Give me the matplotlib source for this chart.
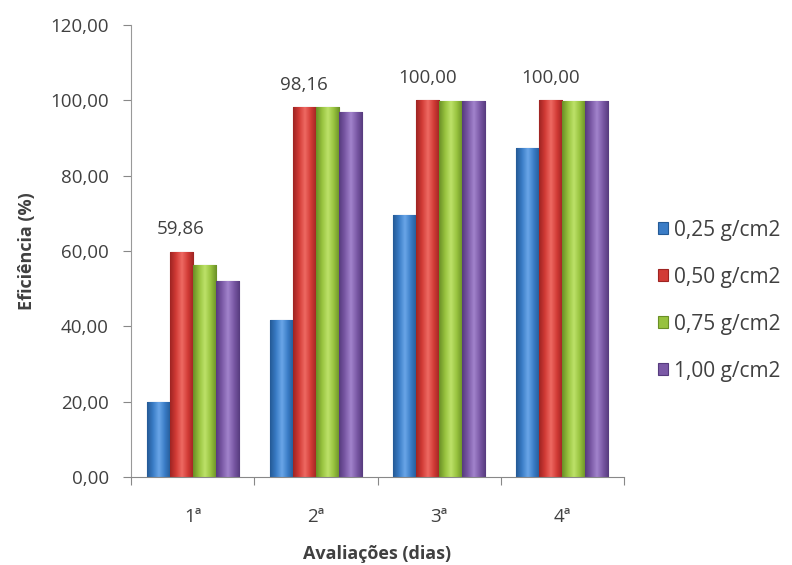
import numpy as np
import matplotlib.pyplot as plt
from matplotlib.colors import LinearSegmentedColormap
from matplotlib.ticker import FuncFormatter

# ---------------- Data ----------------
avaliacoes = ["1ª", "2ª", "3ª", "4ª"]
doses = ["0,25 g/cm2", "0,50 g/cm2", "0,75 g/cm2", "1,00 g/cm2"]
dose_025 = [19.9, 41.7, 69.6, 87.3]
dose_050 = [59.86, 98.16, 100.00, 100.00]
dose_075 = [56.3, 98.2, 99.8, 99.8]
dose_100 = [52.0, 96.9, 99.8, 99.8]
series = [dose_025, dose_050, dose_075, dose_100]

colors = ["#3a7cc6", "#d23b36", "#97c23e", "#7b59a6"]
dark = ["#245a96", "#9e2422", "#6a8f26", "#563b7e"]
light = ["#6aa6e8", "#ee6a63", "#bde26a", "#a284cc"]

txt = "#404040"
plt.rcParams["font.family"] = ["Open Sans", "DejaVu Sans"]

fig = plt.figure(figsize=(7.92, 5.65), dpi=100)
ax = fig.add_axes([0.1654, 0.1558, 0.6225, 0.80])

w = 0.187
x = np.arange(len(avaliacoes))
for i, vals in enumerate(series):
    bars = ax.bar(x + (i - 1.5) * w, vals, width=w, color=colors[i],
                  edgecolor=dark[i], linewidth=0.8, label=doses[i], zorder=2)
    # horizontal shading like the Excel bars
    cmap = LinearSegmentedColormap.from_list("g", [dark[i], colors[i], light[i], colors[i], dark[i]])
    grad = np.linspace(0, 1, 64).reshape(1, -1)
    for b in bars:
        im = ax.imshow(grad, cmap=cmap, aspect="auto", zorder=2.5,
                       extent=[b.get_x(), b.get_x() + b.get_width(), 0, b.get_height()])
        im.set_clip_path(b)
    if i == 1:
        for b, v in zip(bars, vals):
            ax.text(b.get_x() + b.get_width() / 2, v + 3.5, f"{v:.2f}".replace(".", ","),
                    ha="center", va="bottom", fontsize=13.5, color=txt)

ax.set_xlim(-0.5, 3.5)
ax.set_ylim(0, 120)
ax.set_yticks(np.arange(0, 121, 20))
ax.yaxis.set_major_formatter(FuncFormatter(lambda v, p: f"{v:.2f}".replace(".", ",")))
ax.set_xticks(np.arange(-0.5, 4, 1))
ax.set_xticklabels([])
ax.set_xticks(x, minor=True)
ax.set_xticklabels(avaliacoes, minor=True)
ax.tick_params(axis="x", which="major", length=6, color="#888888", direction="out")
ax.tick_params(axis="x", which="minor", length=0, pad=22, labelsize=13.5, labelcolor=txt)
ax.tick_params(axis="y", length=6, color="#888888", labelsize=13.5, labelcolor=txt, pad=10)

for s in ["top", "right"]:
    ax.spines[s].set_visible(False)
ax.spines["left"].set_color("#999999")
ax.spines["bottom"].set_color("#888888")

ax.set_ylabel("Eficiência (%)", fontsize=13, fontweight="bold", color=txt, labelpad=10)
ax.set_xlabel("Avaliações (dias)", fontsize=13, fontweight="bold", color=txt, labelpad=14)

ax.legend(loc="center left", bbox_to_anchor=(1.03, 0.39), frameon=False, fontsize=15,
          labelspacing=1.25, handlelength=0.5, handleheight=0.5, handletextpad=0.3,
          labelcolor=txt)

fig.savefig("out.png", dpi=100)
